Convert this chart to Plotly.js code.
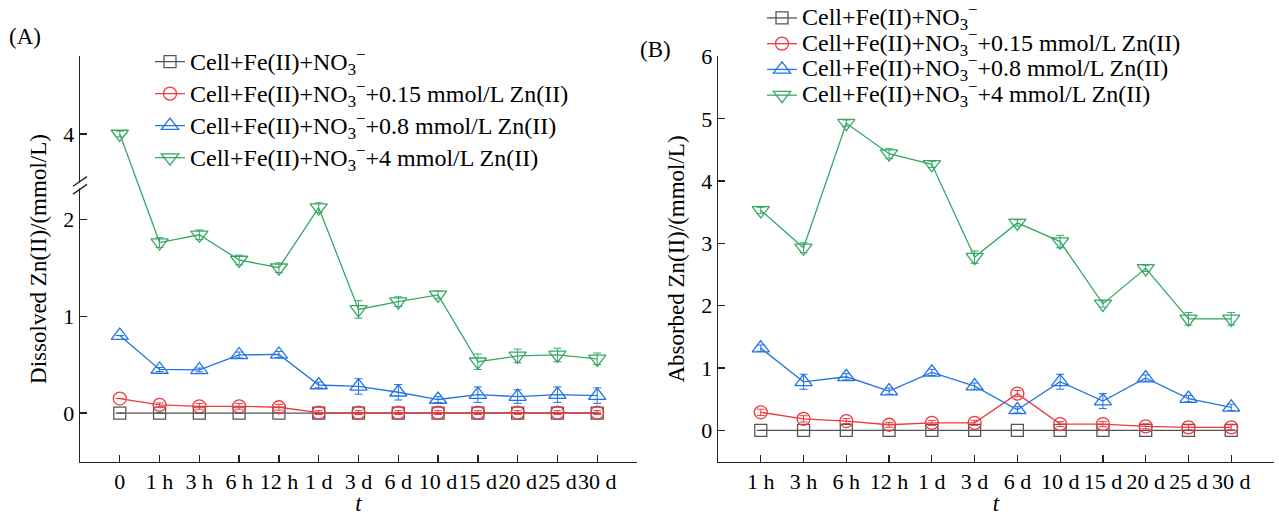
<!DOCTYPE html>
<html>
<head>
<meta charset="utf-8">
<script src="https://cdn.plot.ly/plotly-3.0.1.min.js"></script>
<style>html,body{margin:0;padding:0;background:#fff;}#chart{width:1279px;height:516px;}</style>
</head>
<body>
<div id="chart"></div>
<script>
// ---------- data ----------
const labelsA = ["0","1 h","3 h","6 h","12 h","1 d","3 d","6 d","10 d","15 d","20 d","25 d","30 d"];
const labelsB = ["1 h","3 h","6 h","12 h","1 d","3 d","6 d","10 d","15 d","20 d","25 d","30 d"];
const seriesNames = [
  "Cell+Fe(II)+NO<sub>3</sub><sup>−</sup>",
  "Cell+Fe(II)+NO<sub>3</sub><sup>−</sup>+0.15 mmol/L Zn(II)",
  "Cell+Fe(II)+NO<sub>3</sub><sup>−</sup>+0.8 mmol/L Zn(II)",
  "Cell+Fe(II)+NO<sub>3</sub><sup>−</sup>+4 mmol/L Zn(II)"
];
// Panel A: dissolved Zn(II)
const dissCtrl = [0,0,0,0,0,0,0,0,0,0,0,0,0];
const diss015  = [0.15,0.085,0.07,0.07,0.06,0.005,0.005,0.005,0.005,0.005,0.005,0.005,0.005];
const diss08   = [0.80,0.45,0.445,0.60,0.605,0.29,0.275,0.215,0.14,0.19,0.17,0.19,0.18];
const diss4    = [4.0,1.76,1.84,1.58,1.50,2.12,1.07,1.15,1.22,0.53,0.59,0.60,0.56];
const dissErrCtrl = [0,0,0,0,0,0,0,0,0,0,0,0,0];
const dissErr015  = [0,0.02,0.03,0.03,0.03,0.02,0.02,0.02,0.02,0.02,0.02,0.02,0.02];
const dissErr08   = [0,0.02,0.02,0.03,0.03,0.03,0.08,0.08,0.03,0.08,0.07,0.08,0.08];
const dissErr4    = [0.03,0.05,0.05,0.05,0.05,0.05,0.09,0.05,0.04,0.08,0.07,0.07,0.06];
// Panel B: absorbed Zn(II)
const absCtrl = [0,0,0,0,0,0,0,0,0,0,0,0];
const abs015  = [0.29,0.185,0.15,0.09,0.12,0.12,0.59,0.10,0.10,0.065,0.048,0.048];
const abs08   = [1.32,0.78,0.86,0.63,0.93,0.71,0.33,0.78,0.47,0.84,0.51,0.37];
const abs4    = [3.53,2.93,4.93,4.44,4.27,2.78,3.33,3.03,2.03,2.60,1.79,1.79];
const absErrCtrl = [0,0,0,0,0,0,0,0,0,0,0,0];
const absErr015  = [0.05,0.05,0.04,0.04,0.04,0.04,0.05,0.04,0.04,0.04,0.04,0.04];
const absErr08   = [0.05,0.12,0.05,0.05,0.05,0.05,0.05,0.12,0.12,0.05,0.05,0.05];
const absErr4    = [0.05,0.08,0.05,0.08,0.05,0.1,0.05,0.1,0.05,0.05,0.1,0.1];

// broken axis for panel A: values above the break are shifted down by the gap
const breakLow = 2.35, breakHigh = 3.47;
const gap = breakHigh - breakLow;
const brk = v => (v > breakLow ? v - gap : v);
const yTickValsA = [0,1,2,4];

// ---------- styles ----------
const colors = ["#555555","#F0393F","#2273E6","#35A866"];
const symbols = ["square-open","circle-open","triangle-up-open","triangle-down-open"];
const sizes = [12,13,15,15];
const FONT = "Liberation Serif, Times New Roman, serif";
const legendText = s => '<span style="font-size:24px">' + s + '</span>';

const dissData = [dissCtrl,diss015,diss08,diss4];
const dissErr = [dissErrCtrl,dissErr015,dissErr08,dissErr4];
const absData = [absCtrl,abs015,abs08,abs4];
const absErr = [absErrCtrl,absErr015,absErr08,absErr4];

const traces = [];
for (let i = 0; i < 4; i++) {
  traces.push({
    type: "scatter", mode: "lines+markers", name: legendText(seriesNames[i]),
    x: labelsA.map((_, k) => k), y: dissData[i].map(brk),
    error_y: {type: "data", array: dissErr[i], visible: true, color: colors[i], thickness: 1, width: 4},
    line: {color: colors[i], width: 1.3},
    marker: {symbol: symbols[i], size: sizes[i], color: colors[i], line: {width: 1.3, color: colors[i]}},
    xaxis: "x", yaxis: "y", legend: "legend", legendgroup: "a" + i
  });
}
for (let i = 0; i < 4; i++) {
  traces.push({
    type: "scatter", mode: "lines+markers", name: legendText(seriesNames[i]),
    x: labelsB.map((_, k) => k), y: absData[i],
    error_y: {type: "data", array: absErr[i], visible: true, color: colors[i], thickness: 1, width: 4},
    line: {color: colors[i], width: 1.3},
    marker: {symbol: symbols[i], size: sizes[i], color: colors[i], line: {width: 1.3, color: colors[i]}},
    xaxis: "x2", yaxis: "y2", legend: "legend2", legendgroup: "b" + i
  });
}

const W = 1279, H = 516;
const px = v => v / W, py = v => (H - v) / H;

const axisBase = {
  showline: true, linecolor: "#222", linewidth: 1.3, ticks: "inside", ticklen: 7, tickwidth: 1.3,
  tickcolor: "#222", showgrid: false, zeroline: false, mirror: false, tickangle: 0,
  tickfont: {family: FONT, size: 22, color: "#000"}
};
const titleFont = {family: FONT, size: 23, color: "#000"};

const layout = {
  width: W, height: H, margin: {l: 0, r: 0, t: 0, b: 0},
  paper_bgcolor: "#fff", plot_bgcolor: "rgba(0,0,0,0)",
  font: {family: FONT, size: 22, color: "#000"},
  xaxis: Object.assign({}, axisBase, {
    domain: [px(80), px(637)], anchor: "y", range: [-1, 13],
    tickvals: labelsA.map((_, k) => k).concat([13]), ticktext: labelsA.concat([""]),
    title: {text: "<i>t</i>", font: titleFont, standoff: 7}
  }),
  yaxis: Object.assign({}, axisBase, {
    domain: [py(461), py(52)], anchor: "x", range: [-0.5, 4.8 - gap],
    tickvals: yTickValsA.map(brk), ticktext: yTickValsA.map(String),
    title: {text: "Dissolved Zn(II)/(mmol/L)", font: titleFont, standoff: 10}
  }),
  xaxis2: Object.assign({}, axisBase, {
    domain: [px(718), px(1274)], anchor: "y2", range: [-1, 12],
    tickvals: labelsB.map((_, k) => k).concat([12]), ticktext: labelsB.concat([""]),
    title: {text: "<i>t</i>", font: titleFont, standoff: 7}
  }),
  yaxis2: Object.assign({}, axisBase, {
    domain: [py(461), py(52)], anchor: "x2", range: [-0.5, 6],
    tickvals: [0,1,2,3,4,5,6],
    title: {text: "Absorbed Zn(II)/(mmol/L)", font: titleFont, standoff: 10}
  }),
  legend: {
    x: px(150), y: py(36), xanchor: "left", yanchor: "top", bgcolor: "rgba(0,0,0,0)",
    font: {family: FONT, size: 22.3, color: "#000"}, traceorder: "grouped", tracegroupgap: 0, itemwidth: 30
  },
  legend2: {
    x: px(762), y: py(-5), xanchor: "left", yanchor: "top", bgcolor: "rgba(0,0,0,0)",
    font: {family: FONT, size: 17.5, color: "#000"}, traceorder: "grouped", tracegroupgap: 0, itemwidth: 30
  },
  annotations: [
    {text: "(A)", xref: "paper", yref: "paper", x: px(25), y: py(32), showarrow: false,
     font: titleFont, xanchor: "center", yanchor: "middle"},
    {text: "(B)", xref: "paper", yref: "paper", x: px(655), y: py(45), showarrow: false,
     font: titleFont, xanchor: "center", yanchor: "middle"}
  ],
  shapes: [
    // white gap in axis line at the break
    {type: "line", xref: "paper", yref: "y", x0: px(80), x1: px(80), y0: breakLow - 0.03, y1: breakLow + 0.03,
     line: {color: "#fff", width: 4}},
    {type: "line", xref: "paper", yref: "y", x0: px(73), x1: px(87), y0: breakLow - 0.09, y1: breakLow + 0.01,
     line: {color: "#222", width: 1.3}},
    {type: "line", xref: "paper", yref: "y", x0: px(73), x1: px(87), y0: breakLow - 0.01, y1: breakLow + 0.09,
     line: {color: "#222", width: 1.3}}
  ],
  showlegend: true
};

Plotly.newPlot("chart", traces, layout, {displayModeBar: false, staticPlot: true});
</script>
</body>
</html>
